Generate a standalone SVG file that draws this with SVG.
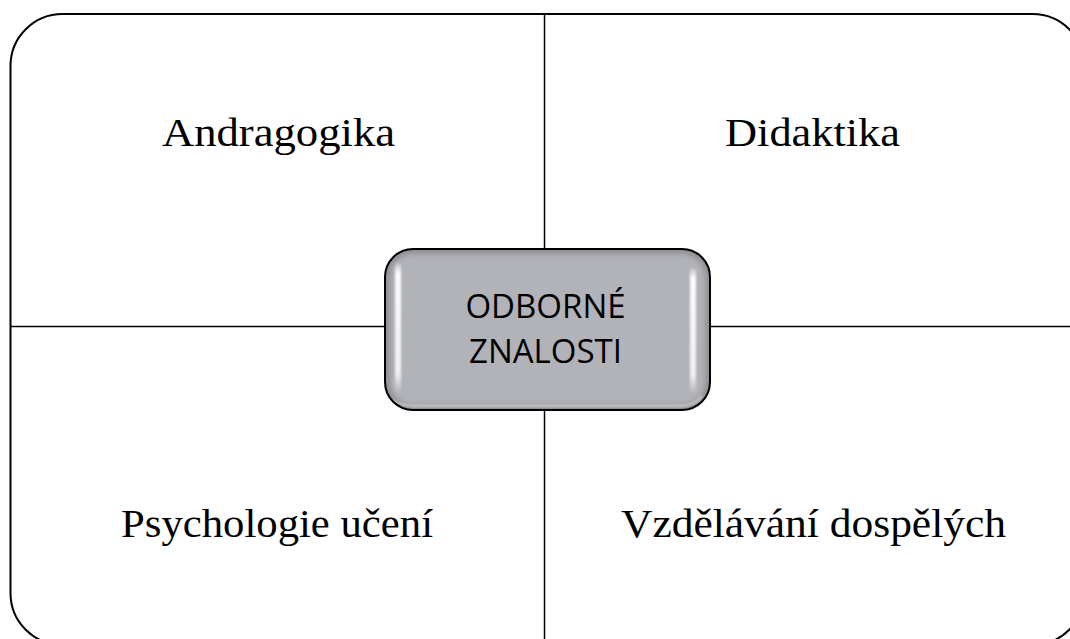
<svg xmlns="http://www.w3.org/2000/svg" width="1070" height="639" viewBox="0 0 1070 639">
  <style>
    .frame { fill: none; stroke: #000; stroke-width: 2; }
    .div { stroke: #000; stroke-width: 1.5; fill: none; }
    .lbl { font-family: "Liberation Serif", "Times New Roman", serif; font-size: 40px; fill: #000; text-anchor: middle; }
    .ctr { font-family: "Open Sans", "Liberation Sans", sans-serif; font-size: 33px; fill: #000; text-anchor: middle; }
  </style>
  <defs>
    <linearGradient id="hl" x1="0" y1="0" x2="0" y2="1">
      <stop offset="0" stop-color="#fff" stop-opacity="0.2"/>
      <stop offset="0.08" stop-color="#fff" stop-opacity="0.95"/>
      <stop offset="0.85" stop-color="#fff" stop-opacity="0.8"/>
      <stop offset="1" stop-color="#fff" stop-opacity="0"/>
    </linearGradient>
    <filter id="blur1" x="-50%" y="-20%" width="200%" height="140%">
      <feGaussianBlur stdDeviation="1"/>
    </filter>
    <filter id="blur3" x="-10%" y="-10%" width="120%" height="120%">
      <feGaussianBlur stdDeviation="3"/>
    </filter>
    <clipPath id="boxclip">
      <rect x="385" y="249" width="325" height="161" rx="28"/>
    </clipPath>
  </defs>

  <g id="frame">
    <rect class="frame" x="10.5" y="14" width="1074" height="631" rx="52"/>
  </g>

  <g id="connectors">
    <line class="div" x1="544.5" y1="14" x2="544.5" y2="249"/>
    <line class="div" x1="544.5" y1="410" x2="544.5" y2="645"/>
    <line class="div" x1="10.5" y1="326.5" x2="385" y2="326.5"/>
    <line class="div" x1="710" y1="326.5" x2="1084" y2="326.5"/>
  </g>

  <g id="node-andragogika">
    <text class="lbl" x="278.5" y="146" textLength="233" lengthAdjust="spacingAndGlyphs">Andragogika</text>
  </g>
  <g id="node-didaktika">
    <text class="lbl" x="812.5" y="146" textLength="175" lengthAdjust="spacingAndGlyphs">Didaktika</text>
  </g>
  <g id="node-psychologie">
    <text class="lbl" x="277" y="537" textLength="312" lengthAdjust="spacingAndGlyphs">Psychologie učení</text>
  </g>
  <g id="node-vzdelavani">
    <text class="lbl" x="813.5" y="537" textLength="385" lengthAdjust="spacingAndGlyphs">Vzdělávání dospělých</text>
  </g>

  <g id="node-center">
    <rect x="385" y="249" width="325" height="161" rx="28" fill="#b2b3b8"/>
    <g clip-path="url(#boxclip)">
      <rect x="385" y="249" width="325" height="161" rx="28" fill="none" stroke="#86868b" stroke-width="8" filter="url(#blur3)"/>
    </g>
    <rect x="395" y="263" width="6" height="130" rx="3" fill="url(#hl)" filter="url(#blur1)"/>
    <rect x="690" y="268" width="6" height="126" rx="3" fill="url(#hl)" filter="url(#blur1)"/>
    <path d="M 392 400 Q 400 406 415 406 L 680 406 Q 695 406 702 396" fill="none" stroke="#e6e6ea" stroke-width="2" opacity="0.7" filter="url(#blur1)"/>
    <rect x="385" y="249" width="325" height="161" rx="28" fill="none" stroke="#000" stroke-width="2"/>
    <text class="ctr" x="545.5" y="318">ODBORNÉ</text>
    <text class="ctr" x="545.5" y="363">ZNALOSTI</text>
  </g>
</svg>
